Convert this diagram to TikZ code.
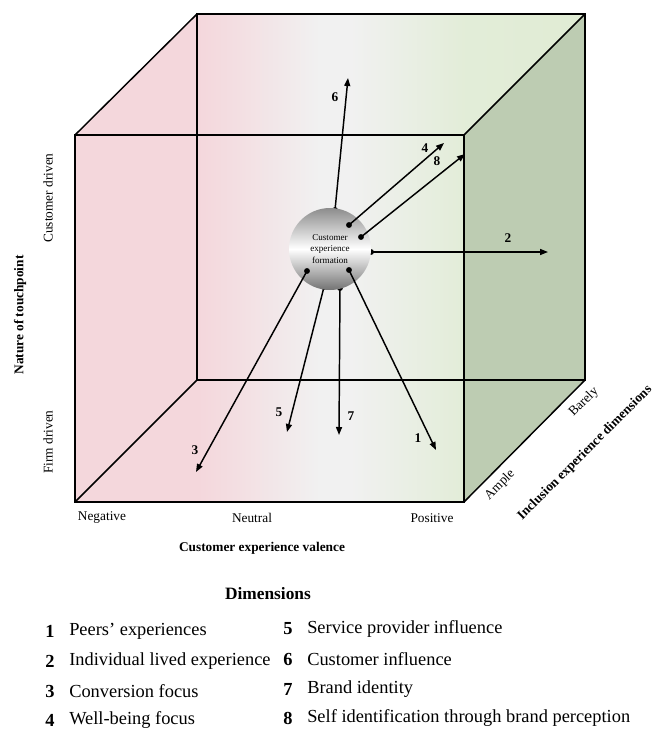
\documentclass[tikz,border=0pt]{standalone}
\usepackage{fontspec}
\setmainfont{Liberation Serif}
\usetikzlibrary{arrows.meta,positioning}
\definecolor{negpink}{HTML}{F4D7DC}
\definecolor{neutgrey}{HTML}{F1F1F1}
\definecolor{posgreen}{HTML}{E0ECD4}
\definecolor{sidegreen}{HTML}{BDCCB2}
% colour runs from negative (left) to positive (right)
\pgfdeclarehorizontalshading{valence}{100bp}{color(0bp)=(negpink); color(37bp)=(negpink); color(41bp)=(negpink!70!neutgrey); color(49bp)=(neutgrey); color(52bp)=(neutgrey); color(63bp)=(posgreen!85!neutgrey); color(75bp)=(posgreen); color(100bp)=(posgreen)}
\tikzset{
  edge/.style={line width=1.1pt},
  arr/.style={line width=1.1pt,-{Triangle[length=6pt,width=4.5pt]}},
  pin/.style={circle,fill=black,inner sep=0pt,minimum size=4.4pt},
  numlabel/.style={font=\bfseries\fontsize{10}{12}\selectfont},
  axislabel/.style={font=\fontsize{10}{12}\selectfont},
  axistitle/.style={font=\bfseries\fontsize{10}{12}\selectfont},
  legnum/.style={font=\bfseries\fontsize{13.8}{16}\selectfont,inner sep=0pt},
  legtext/.style={font=\fontsize{13.8}{16}\selectfont,anchor=west,inner sep=0pt},
}
\begin{document}
\begin{tikzpicture}[x=0.75pt,y=-0.75pt]
\useasboundingbox (0,0) rectangle (658,729);
% cube corners
\coordinate (ftl) at (75,135);
\coordinate (ftr) at (464,135);
\coordinate (fbr) at (464,502);
\coordinate (fbl) at (75,502);
\coordinate (btl) at (197,14);
\coordinate (btr) at (585,14);
\coordinate (bbr) at (585,380);
\coordinate (bbl) at (197,380);
\fill[shading=valence] (ftl) -- (btl) -- (btr) -- (bbr) -- (fbr) -- (fbl) -- cycle;
\fill[sidegreen] (ftr) -- (btr) -- (bbr) -- (fbr) -- cycle;
\draw[edge] (btl) rectangle (bbr);
\draw[edge] (ftl) rectangle (fbr);
\draw[edge] (ftl) -- (btl);
\draw[edge] (ftr) -- (btr);
\draw[edge] (fbr) -- (bbr);
\draw[edge] (fbl) -- (bbl);

% arrow ends
\coordinate (s6) at (335,210);
\coordinate (e6) at (348,78);
\coordinate (s2) at (371,252);
\coordinate (e2) at (548,252);
\coordinate (s5) at (324,287);
\coordinate (e5) at (287,432);
\coordinate (s7) at (340,288);
\coordinate (e7) at (339,435);
\coordinate (s4) at (349,225);
\coordinate (e4) at (444,143);
\coordinate (s8) at (361,237);
\coordinate (e8) at (465,154);
\coordinate (s3) at (307,271);
\coordinate (e3) at (196,472);
\coordinate (s1) at (349,270);
\coordinate (e1) at (436,450);

% edge arrows go under the sphere
\foreach \k in {6,2,5,7} {
  \draw[arr] (s\k) -- (e\k);
  \node[pin] at (s\k) {};
}
\node[circle,minimum size=61.5pt,inner sep=0pt,align=center,
      top color=black!45,bottom color=black!55,middle color=white,
      font=\fontsize{6.8}{8.3}\selectfont]
  (cxf) at (330,249) {Customer\\experience\\formation};
\foreach \k in {4,8,3,1} {
  \draw[arr] (s\k) -- (e\k);
  \node[pin] at (s\k) {};
}

% arrow numbers
\node[numlabel] (d6) at (335,97) {6};
\node[numlabel] (d4) at (425,148) {4};
\node[numlabel] (d8) at (437,161) {8};
\node[numlabel] (d2) at (508,238) {2};
\node[numlabel] (d3) at (195,450) {3};
\node[numlabel] (d5) at (279,412) {5};
\node[numlabel] (d7) at (351,416) {7};
\node[numlabel] (d1) at (418,438) {1};

% axes
\node[axislabel,rotate=90] (cdriven) at (48,198) {Customer driven};
\node[axislabel,rotate=90] (fdriven) at (48,442) {Firm driven};
\node[axistitle,rotate=90] (nature) at (20,315) {Nature of touchpoint};
\node[axislabel] (neg) at (102,518) {Negative};
\node[axislabel] (neu) at (252,518) {Neutral};
\node[axislabel] (pos) at (432,518) {Positive};
\node[axistitle] (valence) at (262,548) {Customer experience valence};
\node[axislabel,rotate=45,inner sep=1pt] (ample) at (500,485) {Ample};
\node[axislabel,rotate=45,inner sep=1pt] (barely) at (584,402) {Barely};
\node[axistitle,rotate=45,inner sep=1pt] (incl) at (585,453) {Inclusion experience dimensions};

% legend
\node[font=\bfseries\fontsize{13}{15}\selectfont] (dimtitle) at (268,594) {Dimensions};
\node[legnum] (n1) at (50,631) {1};
\node[legtext] (l1) at (69,631) {Peers’ experiences};
\node[legnum] (n2) at (50,661) {2};
\node[legtext] (l2) at (69,661) {Individual lived experience};
\node[legnum] (n3) at (50,691) {3};
\node[legtext] (l3) at (69,691) {Conversion focus};
\node[legnum] (n4) at (50,720) {4};
\node[legtext] (l4) at (69,720) {Well-being focus};
\node[legnum] (n5) at (288,629) {5};
\node[legtext] (l5) at (307,629) {Service provider influence};
\node[legnum] (n6) at (288,659) {6};
\node[legtext] (l6) at (307,659) {Customer influence};
\node[legnum] (n7) at (288,689) {7};
\node[legtext] (l7) at (307,689) {Brand identity};
\node[legnum] (n8) at (288,718) {8};
\node[legtext] (l8) at (307,718) {Self identification through brand perception};
\end{tikzpicture}
\end{document}
